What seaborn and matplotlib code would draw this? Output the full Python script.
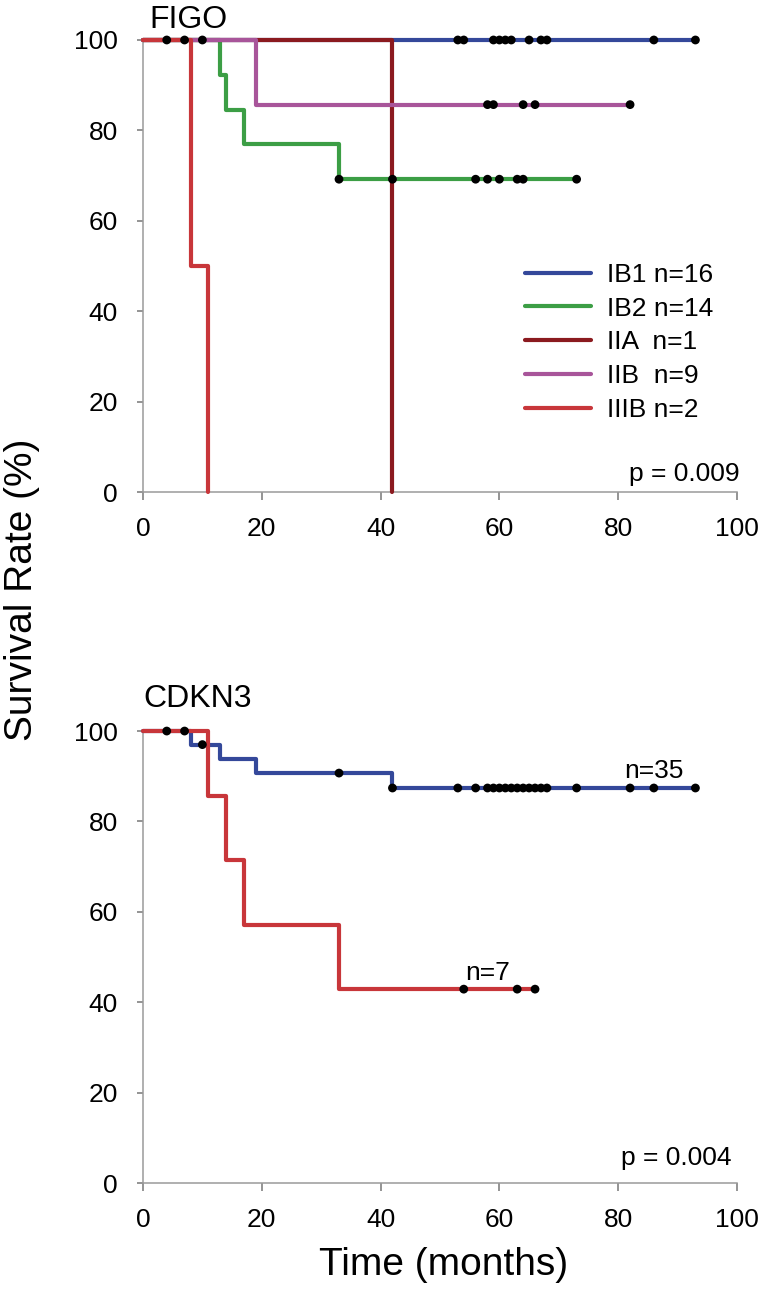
import numpy as np
import pandas as pd
import matplotlib
matplotlib.use("Agg")
import matplotlib.pyplot as plt
import seaborn as sns

sns.set_theme(style="white")
plt.rcParams['font.family'] = ['Liberation Sans', 'DejaVu Sans']
plt.rcParams['text.color'] = 'black'
plt.rcParams['xtick.labelcolor'] = 'black'
plt.rcParams['ytick.labelcolor'] = 'black'
plt.rcParams['axes.labelcolor'] = 'black'

# ---------------- data: FIGO panel ----------------
figo_labels = ["IB1 n=16", "IB2 n=14", "IIA  n=1", "IIB  n=9", "IIIB n=2"]
figo_colors = ["#34489A", "#3C9E45", "#8B1A1F", "#A8559A", "#C8363A"]
ib1_times = [0]
ib1_surv = [100]
ib1_censor = [4, 7, 10, 53, 54, 59, 60, 61, 62, 65, 67, 68, 86, 93]
ib2_times = [0, 13, 14, 17, 33]
ib2_surv = [100, 92.3, 84.6, 76.9, 69.2]
ib2_censor = [33, 42, 56, 58, 60, 63, 64, 73]
iia_times = [0, 42]
iia_surv = [100, 0]
iia_censor = []
iib_times = [0, 19]
iib_surv = [100, 85.7]
iib_censor = [58, 59, 64, 66, 82]
iiib_times = [0, 8, 11]
iiib_surv = [100, 50, 0]
iiib_censor = []

# ---------------- data: CDKN3 panel ----------------
cdkn3_labels = ["n=35", "n=7"]
cdkn3_colors = ["#34489A", "#C8363A"]
hi_times = [0, 8, 13, 19, 42]
hi_surv = [100, 97.0, 93.8, 90.7, 87.4]
hi_censor = [4, 7, 10, 33, 42, 53, 56, 58, 59, 60, 61, 62, 63, 64, 65, 66,
             67, 68, 73, 82, 86, 93]
lo_times = [0, 11, 14, 17, 33]
lo_surv = [100, 85.7, 71.4, 57.1, 42.9]
lo_censor = [54, 63, 66]

x_ticks = [0, 20, 40, 60, 80, 100]
y_ticks = [0, 20, 40, 60, 80, 100]

LW = 3.0
MS = 40


def step_frame(times, surv, censor):
    t = list(times)
    s = list(surv)
    end = max([t[-1]] + list(censor))
    if end > t[-1]:
        t.append(end)
        s.append(s[-1])
    return pd.DataFrame({"t": t, "s": s})


def censor_frame(times, surv, censor):
    c = np.array(censor, dtype=float)
    idx = np.searchsorted(np.array(times, dtype=float), c, side="right") - 1
    return pd.DataFrame({"t": c, "s": np.array(surv, dtype=float)[idx] if len(c) else []})


def style_axes(ax):
    ax.set_xlim(0, 100)
    ax.set_ylim(0, 100)
    ax.set_xticks(x_ticks)
    ax.set_yticks(y_ticks)
    for side in ["top", "right"]:
        ax.spines[side].set_visible(False)
    for side in ["left", "bottom"]:
        ax.spines[side].set_color("#9a9a9a")
        ax.spines[side].set_linewidth(1.1)
    ax.tick_params(axis="x", direction="out", length=6, width=1.1, color="#777777",
                   labelsize=19, pad=12, bottom=True, labelcolor="black")
    ax.tick_params(axis="y", direction="out", length=4, width=1.1, color="#777777",
                   labelsize=19, pad=14, left=True, labelcolor="black")
    ax.set_xlabel("")
    ax.set_ylabel("")
    ax.grid(False)


fig = plt.figure(figsize=(7.65, 12.9), dpi=100)
ax1 = fig.add_axes([0.1869, 0.6186, 0.7765, 0.3504])
ax2 = fig.add_axes([0.1869, 0.0829, 0.7765, 0.3504])

# ---- top panel ----
figo_groups = [
    (ib1_times, ib1_surv, ib1_censor),
    (ib2_times, ib2_surv, ib2_censor),
    (iia_times, iia_surv, iia_censor),
    (iib_times, iib_surv, iib_censor),
    (iiib_times, iiib_surv, iiib_censor),
]
for (t, s, c), lab, col in zip(figo_groups, figo_labels, figo_colors):
    df = step_frame(t, s, c)
    sns.lineplot(data=df, x="t", y="s", ax=ax1, drawstyle="steps-post",
                 estimator=None, sort=False, color=col, linewidth=LW,
                 label=lab, clip_on=False, zorder=3)
for (t, s, c) in figo_groups:
    if len(c):
        cf = censor_frame(t, s, c)
        sns.scatterplot(data=cf, x="t", y="s", ax=ax1, color="black", s=MS,
                        edgecolor="none", clip_on=False, zorder=4, legend=False)
style_axes(ax1)
leg = ax1.legend(loc="upper left", bbox_to_anchor=(0.643, 0.507), frameon=False,
                 fontsize=19, handlelength=2.5, handletextpad=0.6,
                 labelspacing=0.37, borderpad=0, borderaxespad=0)
for h in leg.get_lines():
    h.set_linewidth(LW)
for txt in leg.get_texts():
    txt.set_color("black")
ax1.text(0.01, 1.045, "FIGO", transform=ax1.transAxes, fontsize=23,
         ha="left", va="center", color="black")
ax1.text(1.005, 0.04, "p = 0.009", transform=ax1.transAxes, fontsize=19,
         ha="right", va="center", color="black")

# ---- bottom panel ----
cdkn3_groups = [
    (hi_times, hi_surv, hi_censor),
    (lo_times, lo_surv, lo_censor),
]
for (t, s, c), col in zip(cdkn3_groups, cdkn3_colors):
    df = step_frame(t, s, c)
    sns.lineplot(data=df, x="t", y="s", ax=ax2, drawstyle="steps-post",
                 estimator=None, sort=False, color=col, linewidth=LW,
                 clip_on=False, zorder=3)
for (t, s, c) in cdkn3_groups:
    cf = censor_frame(t, s, c)
    sns.scatterplot(data=cf, x="t", y="s", ax=ax2, color="black", s=MS,
                    edgecolor="none", clip_on=False, zorder=4, legend=False)
style_axes(ax2)
ax2.text(86.0, hi_surv[-1] + 1.0, cdkn3_labels[0], fontsize=19, ha="center",
         va="bottom", color="black")
ax2.text(58.0, lo_surv[-1] + 1.0, cdkn3_labels[1], fontsize=19, ha="center",
         va="bottom", color="black")
ax2.text(0.0, 1.07, "CDKN3", transform=ax2.transAxes, fontsize=23,
         ha="left", va="center", color="black")
ax2.text(0.99, 0.055, "p = 0.004", transform=ax2.transAxes, fontsize=19,
         ha="right", va="center", color="black")

fig.text(0.029, 0.5426, "Survival Rate (%)", rotation=90, fontsize=28,
         ha="center", va="center", color="black")
fig.text(0.5795, 0.0195, "Time (months)", fontsize=28, ha="center", va="center",
         color="black")

fig.savefig("out.png", dpi=100, facecolor="white")
